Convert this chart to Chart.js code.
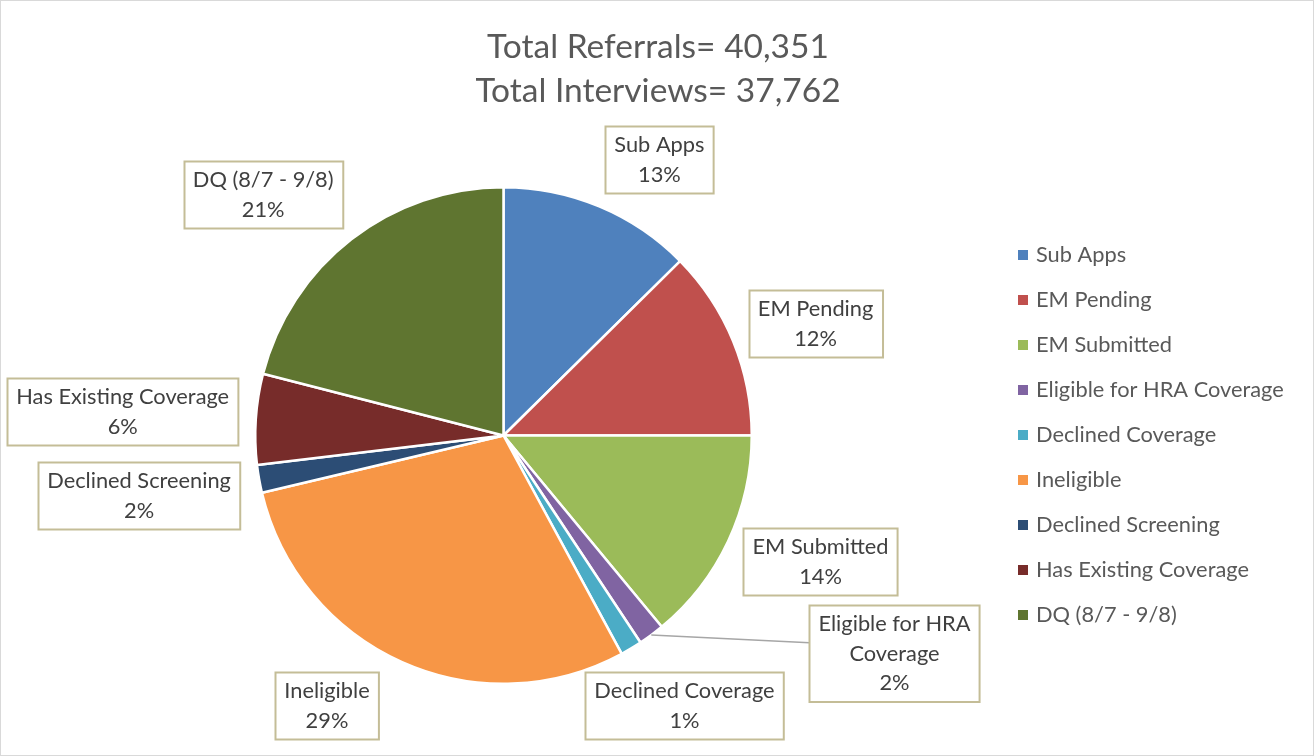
<!DOCTYPE html>
<html>
<head>
<meta charset="utf-8">
<script src="https://cdn.jsdelivr.net/npm/chart.js@4"></script>
<style>
  html, body { margin: 0; padding: 0; background: #fff; }
  #wrap { width: 1314px; height: 756px; position: relative; }
</style>
</head>
<body>
<div id="wrap"><canvas id="pie"></canvas></div>
<script>
const titleLines = ["Total Referrals= 40,351", "Total Interviews= 37,762"];
const categories = [
  "Sub Apps", "EM Pending", "EM Submitted", "Eligible for HRA Coverage",
  "Declined Coverage", "Ineligible", "Declined Screening",
  "Has Existing Coverage", "DQ (8/7 - 9/8)"
];
// share of referrals, percent
const shares = [12.6, 12.4, 14.0, 1.7, 1.4, 29.2, 1.8, 5.9, 21.0];
const colors = [
  "#4F81BD", "#C0504D", "#9BBB59", "#8064A2", "#4BACC6",
  "#F79646", "#2C4D75", "#772C2A", "#5F7530"
];
// label text lines inside callout boxes (wrapped like the original)
const labelLines = [
  ["Sub Apps"], ["EM Pending"], ["EM Submitted"], ["Eligible for HRA", "Coverage"],
  ["Declined Coverage"], ["Ineligible"], ["Declined Screening"],
  ["Has Existing Coverage"], ["DQ (8/7 - 9/8)"]
];

const FONT = "Lato, 'Open Sans', sans-serif";

// box centers relative to pie center, in units of the radius
const labelSpots = [
  [0.628, -1.111], [1.257, -0.451], [1.277, 0.508], [1.575, 0.879],
  [0.729, 1.087], [-0.711, 1.089], [-1.468, 0.241], [-1.534, -0.097], [-0.968, -0.972]
];
const leaderFor = new Set([3]);

const decorPlugin = {
  id: "decor",
  beforeDraw(chart) {
    const { ctx, width, height } = chart;
    ctx.save();
    ctx.fillStyle = "#fff";
    ctx.fillRect(0, 0, width, height);
    ctx.strokeStyle = "#d9d9d9";
    ctx.lineWidth = 1;
    ctx.strokeRect(0.5, 0.5, width - 1, height - 1);
    ctx.restore();
  },
  afterDraw(chart) {
    const { ctx } = chart;
    const meta = chart.getDatasetMeta(0);
    const total = shares.reduce((a, b) => a + b, 0);
    ctx.save();

    // title
    ctx.fillStyle = "#595959";
    ctx.font = `33.5px ${FONT}`;
    ctx.textAlign = "center";
    ctx.textBaseline = "middle";
    ctx.fillText(titleLines[0], 658, 47);
    ctx.fillText(titleLines[1], 658, 91);

    // data label callouts
    ctx.font = `21.8px ${FONT}`;
    meta.data.forEach((arc, i) => {
      const R = arc.outerRadius;
      const cx = arc.x + labelSpots[i][0] * R;
      const cy = arc.y + labelSpots[i][1] * R;
      const pct = Math.round(shares[i] / total * 100) + "%";
      const lines = labelLines[i].concat([pct]);
      const lh = 29.5;
      const w = Math.max(...lines.map((t) => ctx.measureText(t).width)) + 18;
      const h = lines.length * lh + 8;
      const x0 = Math.round(cx - w / 2) + 0.5;
      const y0 = Math.round(cy - h / 2) + 0.5;

      if (leaderFor.has(i)) {
        const mid = (arc.startAngle + arc.endAngle) / 2;
        ctx.strokeStyle = "#a6a6a6";
        ctx.lineWidth = 1.5;
        ctx.beginPath();
        ctx.moveTo(arc.x + Math.cos(mid) * R, arc.y + Math.sin(mid) * R);
        ctx.lineTo(x0, cy - 11);
        ctx.stroke();
      }

      ctx.fillStyle = "#fff";
      ctx.fillRect(x0, y0, w, h);
      ctx.strokeStyle = "#C4BD97";
      ctx.lineWidth = 2;
      ctx.strokeRect(x0, y0, w, h);
      ctx.fillStyle = "#404040";
      lines.forEach((t, k) => {
        ctx.fillText(t, cx, y0 + 4 + lh / 2 + k * lh);
      });
    });

    // legend
    ctx.textAlign = "left";
    ctx.font = `21.8px ${FONT}`;
    categories.forEach((name, i) => {
      const y = 255 + i * 45;
      ctx.fillStyle = colors[i];
      ctx.fillRect(1018, y - 5, 10, 10);
      ctx.fillStyle = "#595959";
      ctx.fillText(name, 1036, y);
    });
    ctx.restore();
  }
};

new Chart(document.getElementById("pie"), {
  type: "pie",
  data: {
    labels: categories,
    datasets: [{
      data: shares,
      backgroundColor: colors,
      borderColor: "#ffffff",
      borderWidth: 2.5
    }]
  },
  options: {
    responsive: true,
    maintainAspectRatio: false,
    animation: false,
    layout: { padding: { left: 254, right: 561, top: 186, bottom: 71 } },
    plugins: {
      legend: { display: false },
      tooltip: { enabled: false },
      title: { display: false }
    }
  },
  plugins: [decorPlugin]
});
</script>
</body>
</html>
